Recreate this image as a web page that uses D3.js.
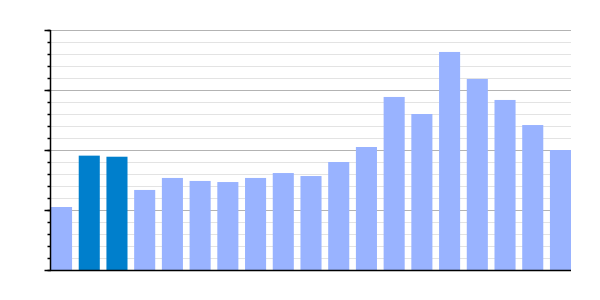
<!DOCTYPE html>
<html>
<head>
<meta charset="utf-8">
<script src="https://cdn.jsdelivr.net/npm/d3@7"></script>
<style>
  body { margin: 0; background: #fff; }
  svg { display: block; font-family: "DejaVu Sans", sans-serif; }
</style>
</head>
<body>
<svg></svg>
<script>
// bar order, one entry per bar
const categories = d3.range(1, 20).map(String);
const values = [52.5, 95.3, 94.4, 66.7, 76.7, 74.2, 73.3, 76.7, 80.8, 78.3,
                90, 102.5, 144.2, 130, 181.7, 159.2, 141.7, 120.8, 100];
// the two bars drawn in the darker colour
const highlighted = ["2", "3"];
const majorTicks = [0, 50, 100, 150, 200];
const minorTicks = d3.range(0, 201, 10);

const width = 600;
const height = 300;
const plotLeft = 50, plotRight = 571, plotTop = 30, plotBottom = 270;

const svg = d3.select("svg").attr("width", width).attr("height", height);

const xScale = d3.scaleBand()
  .domain(categories)
  .range([plotLeft + 1, plotRight])
  .paddingInner(0.24)
  .paddingOuter(0);

const yScale = d3.scaleLinear()
  .domain([0, 200])
  .range([plotBottom, plotTop]);

// minor grid first, then major on top
svg.append("g")
  .selectAll("line")
  .data(minorTicks.filter(d => !majorTicks.includes(d)))
  .enter()
  .append("line")
  .attr("x1", plotLeft).attr("x2", plotRight)
  .attr("y1", d => yScale(d) + 0.5).attr("y2", d => yScale(d) + 0.5)
  .attr("stroke", "#e3e3e3");

svg.append("g")
  .selectAll("line")
  .data(majorTicks.slice(1))
  .enter()
  .append("line")
  .attr("x1", plotLeft).attr("x2", plotRight)
  .attr("y1", d => yScale(d) + 0.5).attr("y2", d => yScale(d) + 0.5)
  .attr("stroke", "#b3b3b3");

svg.append("g")
  .selectAll("rect")
  .data(values)
  .enter()
  .append("rect")
  .attr("x", (d, i) => xScale(categories[i]))
  .attr("width", xScale.bandwidth())
  .attr("y", d => yScale(d))
  .attr("height", d => plotBottom - yScale(d))
  .attr("fill", (d, i) => highlighted.includes(categories[i]) ? "#007fcc" : "#99b3ff");

// y axis: long ticks at majors, short ticks at minors, no labels
const yMinor = d3.axisLeft(yScale).tickValues(minorTicks).tickSize(3).tickFormat("");
const yMajor = d3.axisLeft(yScale).tickValues(majorTicks).tickSize(6).tickFormat("");

svg.append("g")
  .attr("transform", "translate(" + (plotLeft + 0.5) + ",0)")
  .call(yMinor)
  .call(g => g.select(".domain").remove())
  .selectAll("line").attr("stroke", "#000").attr("stroke-width", 1.5);

svg.append("g")
  .attr("transform", "translate(" + (plotLeft + 0.5) + ",0)")
  .call(yMajor)
  .call(g => g.select(".domain").remove())
  .selectAll("line").attr("stroke", "#000").attr("stroke-width", 1.5);

svg.append("line")
  .attr("x1", plotLeft + 0.5).attr("x2", plotLeft + 0.5)
  .attr("y1", plotTop).attr("y2", plotBottom + 1)
  .attr("stroke", "#000").attr("stroke-width", 1.5);

svg.append("line")
  .attr("x1", plotLeft).attr("x2", plotRight)
  .attr("y1", plotBottom + 0.5).attr("y2", plotBottom + 0.5)
  .attr("stroke", "#000").attr("stroke-width", 1.5);
</script>
</body>
</html>
